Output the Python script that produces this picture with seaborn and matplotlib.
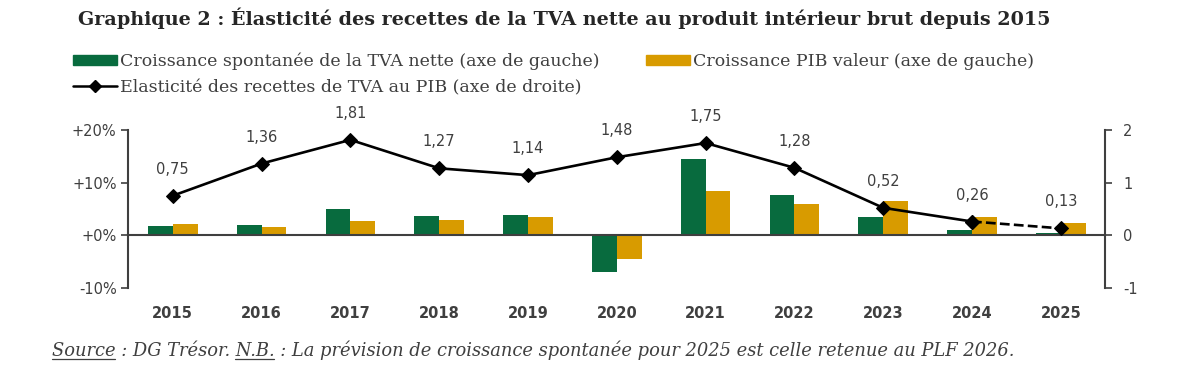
import matplotlib
matplotlib.use("Agg")
import matplotlib.pyplot as plt
import matplotlib.ticker as mticker
from matplotlib.lines import Line2D
from matplotlib.patches import Patch
import seaborn as sns
import pandas as pd
import numpy as np

# données
annees = ["2015", "2016", "2017", "2018", "2019", "2020", "2021", "2022", "2023", "2024", "2025"]
croissance_tva = [1.7, 2.0, 5.0, 3.6, 3.8, -7.0, 14.4, 7.6, 3.4, 1.0, 0.5]
croissance_pib = [2.2, 1.5, 2.7, 2.9, 3.4, -4.6, 8.3, 5.9, 6.5, 3.5, 2.4]
elasticite = [0.75, 1.36, 1.81, 1.27, 1.14, 1.48, 1.75, 1.28, 0.52, 0.26, 0.13]

lib_tva = "Croissance spontanée de la TVA nette (axe de gauche)"
lib_pib = "Croissance PIB valeur (axe de gauche)"
lib_elast = "Elasticité des recettes de TVA au PIB (axe de droite)"

vert = "#086b3e"
orange = "#d89b00"
gris = "#3f3f3f"
serif = "DejaVu Serif"

sns.set_style("white")
plt.rcParams['font.family'] = ['DejaVu Sans']
plt.rcParams['axes.unicode_minus'] = False

df = pd.DataFrame({
    "annee": annees * 2,
    "valeur": croissance_tva + croissance_pib,
    "serie": [lib_tva] * len(annees) + [lib_pib] * len(annees),
})

fig = plt.figure(figsize=(12, 3.71), dpi=100)
ax = fig.add_axes([0.107, 0.224, 0.814, 0.426])

sns.barplot(data=df, x="annee", y="valeur", hue="serie",
            palette=[vert, orange], width=0.56, gap=0, ax=ax,
            legend=False, saturation=1, linewidth=0)

ax.set_ylim(-10, 20)
ax.set_xlim(-0.5, len(annees) - 0.5)
ax.set_yticks([-10, 0, 10, 20])
ax.yaxis.set_major_formatter(mticker.FuncFormatter(
    lambda v, p: "{:+.0f}%".format(v) if v >= 0 else "{:.0f}%".format(v)))
ax.set_xlabel("")
ax.set_ylabel("")

# axe des abscisses à zéro, étiquettes en bas
ax.spines['bottom'].set_position(('data', 0))
ax.spines['bottom'].set_linewidth(1.5)
ax.spines['bottom'].set_color(gris)
ax.spines['top'].set_visible(False)
ax.spines['right'].set_visible(False)
ax.spines['left'].set_color(gris)
ax.spines['left'].set_linewidth(1.5)
ax.tick_params(axis='x', which='major', length=0, pad=51, labelsize=10.5,
               colors=gris)
ax.set_xticks(range(len(annees)), annees, fontweight='bold')
ax.set_xticks(np.arange(len(annees) - 1) + 0.5, minor=True)
ax.tick_params(axis='x', which='minor', length=4, width=1.2, color=gris,
               direction='out')
ax.tick_params(axis='y', length=5, width=1.2, color=gris, labelsize=10.5,
               labelcolor=gris, left=True)

# élasticité sur l'axe de droite
ax2 = ax.twinx()
idx = np.arange(len(annees))
sns.lineplot(x=idx[:-1], y=elasticite[:-1], ax=ax2, color="black",
             marker="D", markersize=7, linewidth=1.9, markeredgecolor="black")
sns.lineplot(x=idx[-2:], y=elasticite[-2:], ax=ax2, color="black",
             marker="D", markersize=7, linewidth=1.9, linestyle="--",
             markeredgecolor="black")
ax2.set_ylim(-1, 2)
ax2.set_yticks([-1, 0, 1, 2])
ax2.spines['top'].set_visible(False)
ax2.spines['left'].set_visible(False)
ax2.spines['bottom'].set_visible(False)
ax2.spines['right'].set_color(gris)
ax2.spines['right'].set_linewidth(1.5)
ax2.tick_params(axis='y', length=5, width=1.2, color=gris, labelsize=10.5,
                labelcolor=gris, right=True, pad=8)
ax2.grid(False)

for i, v in enumerate(elasticite):
    ax2.annotate("{:.2f}".format(v).replace(".", ","), (i, v),
                 xytext=(0, 19), textcoords="offset points",
                 ha="center", va="center", fontsize=10.5, color=gris)

# légende
poignees = [Patch(color=vert),
            Line2D([], [], color="black", marker="D", markersize=6, linewidth=1.8),
            Patch(color=orange)]
fig.legend(poignees, [lib_tva, lib_elast, lib_pib], ncol=2,
           loc="upper left", bbox_to_anchor=(0.048, 0.9), frameon=False,
           prop={'family': serif, 'size': 12.5}, labelcolor=gris,
           handlelength=2.5, handleheight=0.55, columnspacing=2.7,
           labelspacing=0.5, handletextpad=0.2)

fig.text(0.470, 0.952, "Graphique 2 : Élasticité des recettes de la TVA nette au produit intérieur brut depuis 2015",
         ha="center", va="center", family=serif, fontweight="bold", fontsize=13.8)

# note de bas
note = "Source : DG Trésor. N.B. : La prévision de croissance spontanée pour 2025 est celle retenue au PLF 2026."
x0, y0 = 0.043, 0.057
t = fig.text(x0, y0, note, ha="left", va="center", family=serif,
             style="italic", fontsize=12.9, color=gris)

fig.canvas.draw()
rend = fig.canvas.get_renderer()
bb_all = t.get_window_extent(rend)

def largeur(s):
    tt = fig.text(x0, y0, s, family=serif, style="italic", fontsize=12.9)
    w = tt.get_window_extent(rend).width
    tt.remove()
    return w

y_ligne = (bb_all.y0 + 1) / fig.bbox.height
for debut, mot in [("", "Source"), ("Source : DG Trésor. ", "N.B.")]:
    xa = bb_all.x0 + (largeur(debut) if debut else 0)
    xb = xa + largeur(mot)
    fig.add_artist(Line2D([xa / fig.bbox.width, xb / fig.bbox.width],
                          [y_ligne, y_ligne], color=gris, linewidth=0.9))

plt.savefig("out.png", dpi=100)
